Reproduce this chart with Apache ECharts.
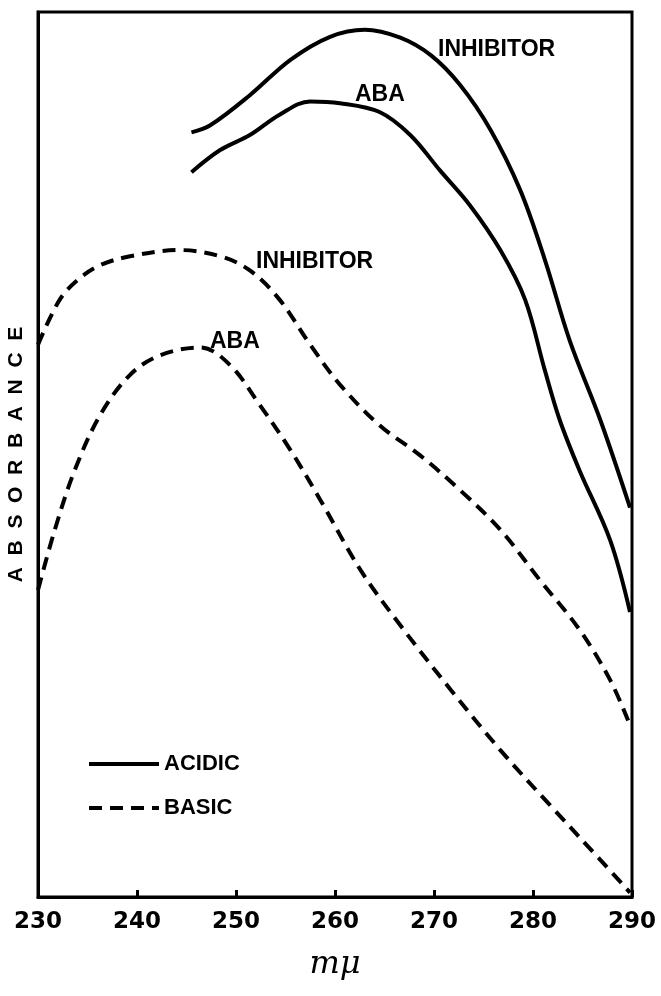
<!DOCTYPE html>
<html>
<head>
<meta charset="utf-8">
<script src="https://cdn.jsdelivr.net/npm/echarts@6/dist/echarts.min.js"></script>
<style>
html, body { margin: 0; padding: 0; background: #fff; }
#chart { width: 661px; height: 996px; }
</style>
</head>
<body>
<div id="chart"></div>
<script>
// wavelength (m\u03bc) ticks
var xTicks = [230, 240, 250, 260, 270, 280, 290];

// acidic solution, inhibitor
var acidInhX = [245.5, 247.4, 251.4, 255.5, 259.5, 263.0, 266.6, 269.7, 272.6, 275.7, 278.7, 281.2, 283.7, 286.8, 289.8];
var acidInhY = [86.4, 87.2, 90.6, 94.6, 97.2, 98.0, 97.1, 95.1, 91.8, 86.7, 79.9, 72.0, 62.9, 53.9, 44.0];

// acidic solution, ABA
var acidAbaX = [245.5, 248.4, 251.4, 254.4, 257.5, 260.5, 264.5, 267.6, 270.6, 273.6, 276.7, 279.2, 281.2, 282.7, 284.7, 287.8, 289.8];
var acidAbaY = [81.9, 84.4, 86.1, 88.4, 89.9, 89.7, 88.7, 86.1, 82.1, 78.2, 73.1, 67.5, 59.5, 53.9, 48.2, 40.3, 32.2];

// basic solution, inhibitor
var baseInhX = [230.0, 232.2, 234.2, 236.3, 239.3, 244.3, 248.4, 251.4, 254.4, 257.5, 260.5, 264.5, 268.6, 272.6, 276.7, 280.7, 284.7, 287.8, 289.8];
var baseInhY = [62.4, 67.5, 69.9, 71.4, 72.4, 73.1, 72.4, 70.8, 67.5, 62.4, 57.9, 53.3, 49.9, 46.0, 41.5, 35.8, 30.2, 24.5, 19.4];

// basic solution, ABA
var baseAbaX = [230.0, 231.7, 233.7, 236.3, 239.3, 242.3, 246.4, 249.4, 252.4, 255.5, 258.5, 262.6, 266.6, 271.7, 276.7, 281.7, 286.8, 289.8];
var baseAbaY = [34.7, 41.5, 48.2, 54.5, 59.0, 61.2, 62.1, 60.1, 55.6, 50.5, 44.9, 36.9, 30.7, 23.4, 16.6, 10.4, 4.2, 0.5];

function pairs(xs, ys) {
	var out = [];
	for (var i = 0; i < xs.length; i++) {
		out.push([xs[i], ys[i]]);
	}
	return out;
}

var myChart = echarts.init(document.getElementById('chart'));

function curve(name, xs, ys, dashed) {
	return {
		name: name,
		type: 'line',
		data: pairs(xs, ys),
		smooth: 0.35,
		symbol: 'none',
		showSymbol: false,
		lineStyle: {
			color: '#000',
			width: 4,
			type: dashed ? [13, 8] : 'solid'
		},
		itemStyle: { color: '#000' },
		silent: true
	};
}

// curve labels, anchored at their left edge / vertical centre
function label(x, y, text) {
	return {
		type: 'text',
		x: x,
		y: y,
		style: {
			text: text,
			font: 'bold 23px "Liberation Sans"',
			fill: '#000',
			verticalAlign: 'middle'
		}
	};
}

var options = {
	animation: false,
	backgroundColor: '#fff',
	grid: {
		left: 38,
		right: 29,
		top: 12,
		bottom: 99,
		containLabel: false,
		outerBoundsMode: 'none',
		show: true,
		borderColor: '#000',
		borderWidth: 3
	},
	legend: {
		orient: 'vertical',
		left: 82,
		top: 748,
		itemWidth: 70,
		itemHeight: 18,
		itemGap: 22,
		data: ['ACIDIC', 'BASIC'],
		itemStyle: { opacity: 0 },
		lineStyle: { width: 4 },
		textStyle: {
			fontFamily: 'Liberation Sans',
			fontWeight: 'bold',
			fontSize: 22,
			color: '#000'
		}
	},
	xAxis: {
		type: 'value',
		min: 230,
		max: 290,
		interval: 10,
		name: 'm\u03bc',
		nameLocation: 'middle',
		nameGap: 52,
		nameTextStyle: {
			fontFamily: 'DejaVu Serif',
			fontStyle: 'italic',
			fontSize: 32,
			color: '#000'
		},
		axisLine: { lineStyle: { color: '#000', width: 3 } },
		axisTick: { inside: true, length: 7, lineStyle: { color: '#000', width: 3 } },
		splitLine: { show: false },
		axisLabel: {
			fontFamily: 'DejaVu Sans',
			fontWeight: 'bold',
			fontSize: 23,
			margin: 14,
			color: '#000'
		}
	},
	yAxis: {
		type: 'value',
		min: 0,
		max: 100,
		name: 'A  B  S  O  R  B  A  N  C  E',
		nameLocation: 'middle',
		nameRotate: 90,
		nameGap: 11,
		nameTextStyle: {
			fontFamily: 'Liberation Sans',
			fontWeight: 'bold',
			fontSize: 21,
			color: '#000'
		},
		axisLine: { show: true, lineStyle: { color: '#000', width: 3 } },
		axisTick: { show: false },
		axisLabel: { show: false },
		splitLine: { show: false }
	},
	graphic: [
		label(438, 50, 'INHIBITOR'),
		label(355, 95, 'ABA'),
		label(256, 262, 'INHIBITOR'),
		label(210, 342, 'ABA')
	],
	series: [
		curve('ACIDIC', acidInhX, acidInhY, false),
		curve('ACIDIC', acidAbaX, acidAbaY, false),
		curve('BASIC', baseInhX, baseInhY, true),
		curve('BASIC', baseAbaX, baseAbaY, true)
	]
};

myChart.setOption(options);
</script>
</body>
</html>
